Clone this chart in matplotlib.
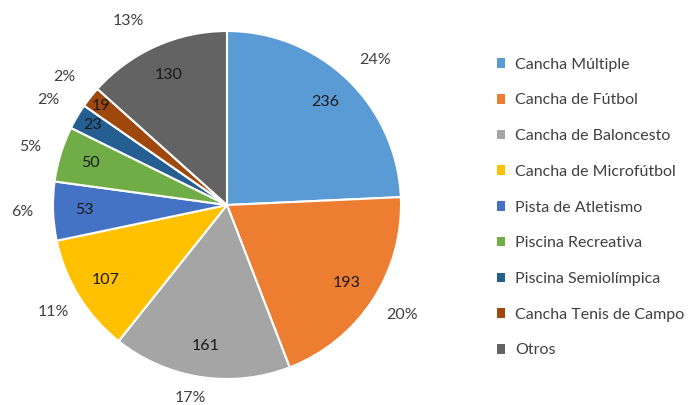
import numpy as np
import matplotlib
matplotlib.use("Agg")
import matplotlib.pyplot as plt
from matplotlib.patches import Patch

categorias = ["Cancha Múltiple", "Cancha de Fútbol", "Cancha de Baloncesto",
              "Cancha de Microfútbol", "Pista de Atletismo", "Piscina Recreativa",
              "Piscina Semiolímpica", "Cancha Tenis de Campo", "Otros"]
valores = [236, 193, 161, 107, 53, 50, 23, 19, 130]
porcentajes = ["24%", "20%", "17%", "11%", "6%", "5%", "2%", "2%", "13%"]
colores = ["#5B9BD5", "#ED7D31", "#A5A5A5", "#FFC000", "#4472C4",
           "#70AD47", "#255E91", "#9E480E", "#636363"]

plt.rcParams["font.family"] = ["Lato", "DejaVu Sans"]

fig = plt.figure(figsize=(6.97, 4.05), dpi=100)
ax = fig.add_axes([(227 - 174) / 697, (200 - 174) / 405, 348 / 697, 348 / 405])

wedges, _ = ax.pie(valores, colors=colores, startangle=90, counterclock=False,
                   radius=1, wedgeprops=dict(edgecolor="white", linewidth=1.5))

# posiciones de etiquetas (distancia relativa al radio, desplazamiento angular)
dist_in = [0.82, 0.82, 0.82, 0.82, 0.82, 0.82, 0.9, 0.92, 0.82]
dist_out = [1.19, 1.19, 1.13, 1.17, 1.18, 1.18, 1.19, 1.19, 1.2]
giro_out = [-2, 1, -2, 0, 0, 0.5, 0, 0, 4]
for w, v, p, d, do, g in zip(wedges, valores, porcentajes, dist_in, dist_out, giro_out):
    ang = np.deg2rad((w.theta1 + w.theta2) / 2)
    ax.text(d * np.cos(ang), d * np.sin(ang), str(v), ha="center", va="center",
            fontsize=11.5, color="#1a1a1a")
    ang2 = ang + np.deg2rad(g)
    ax.text(do * np.cos(ang2), do * np.sin(ang2), p, ha="center", va="center",
            fontsize=11.5, color="#404040")

ax.set_xlim(-1, 1)
ax.set_ylim(-1, 1)
ax.set_aspect("equal")
ax.axis("off")

handles = [Patch(facecolor=c, edgecolor="none") for c in colores]
fig.legend(handles, categorias, loc="upper left", bbox_to_anchor=(0.692, 0.893),
           frameon=False, fontsize=11.5, handlelength=0.55, handleheight=0.55,
           handletextpad=0.6, labelspacing=1.36, labelcolor="#404040")

fig.savefig("out.png", dpi=100)
